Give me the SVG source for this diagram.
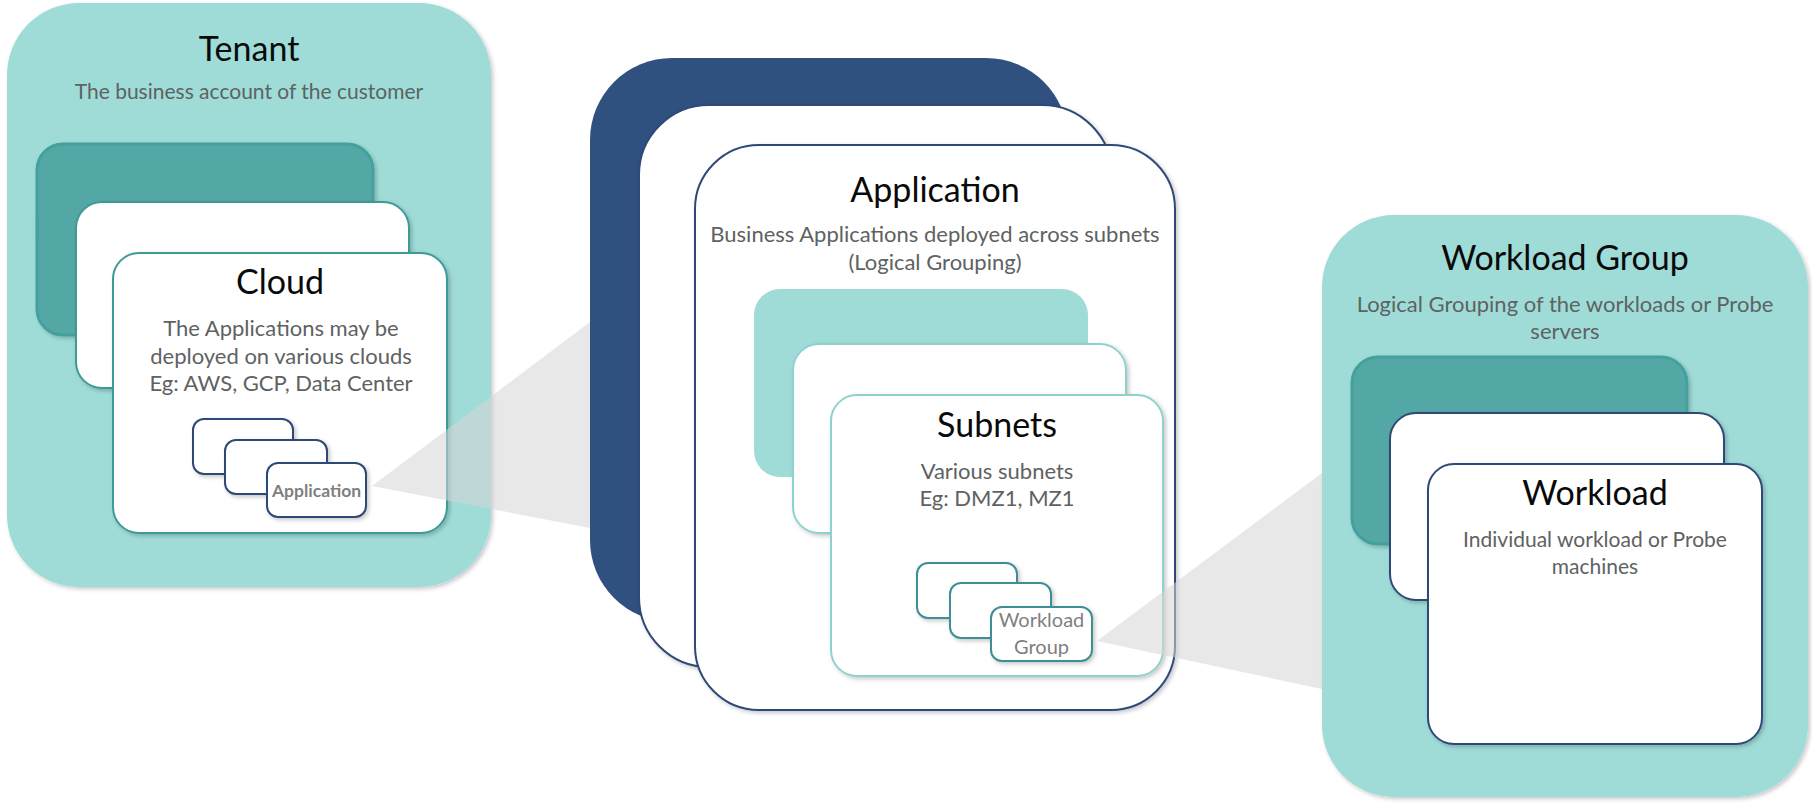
<svg xmlns="http://www.w3.org/2000/svg" width="1812" height="809" viewBox="0 0 1812 809">
<defs>
<filter id="sh" x="-10%" y="-10%" width="125%" height="125%">
<feDropShadow dx="2" dy="2" stdDeviation="2" flood-color="#000" flood-opacity="0.22"/>
</filter>
<style>
.bgteal{fill:#9FDCD8;}
.darkteal{fill:#52A8A6;stroke:#45A09D;stroke-width:3;}
.wteal{fill:#fff;stroke:#3E9A97;stroke-width:2;}
.wlteal{fill:#fff;stroke:#8FD2CD;stroke-width:2;}
.wnavy{fill:#fff;stroke:#2F4A78;stroke-width:2;}
.navy{fill:#30507F;}
.sm-navy{fill:#fff;stroke:#2F4A78;stroke-width:2;}
.sm-teal{fill:#fff;stroke:#3C8F93;stroke-width:2;}
.wedge{fill:#D6D6D6;fill-opacity:0.55;}
text{font-family:Lato,"Open Sans","Liberation Sans",sans-serif;text-anchor:middle;}
.title{font-size:34px;fill:#0A0A0A;}
.sub{font-size:21px;fill:#5E6262;}
.sub2{font-size:22px;fill:#5E6262;}
.smb{font-size:17.5px;font-weight:bold;fill:#7F7F7F;}
.sml{font-size:20px;fill:#7F7F7F;}
</style>
</defs>

<g id="tenant">
<rect class="bgteal" x="7" y="3" width="484" height="584" rx="72" filter="url(#sh)"/>
<text class="title" x="249" y="61">Tenant</text>
<text class="sub" x="249" y="99">The business account of the customer</text>
</g>

<g id="cloud">
<rect class="darkteal" x="37" y="144" width="336" height="191" rx="26" filter="url(#sh)"/>
<rect class="wteal" x="76" y="202" width="333" height="186" rx="26" filter="url(#sh)"/>
<rect class="wteal" x="113" y="253" width="334" height="280" rx="26" filter="url(#sh)"/>
<text class="title" x="280" y="294">Cloud</text>
<text class="sub2" x="281" y="336">The Applications may be</text>
<text class="sub2" x="281" y="364">deployed on various clouds</text>
<text class="sub2" x="281" y="391">Eg: AWS, GCP, Data Center</text>
</g>

<g id="application">
<rect class="navy" x="590" y="58" width="478" height="564" rx="82"/>
<rect class="wnavy" x="639" y="105" width="473" height="562" rx="70" filter="url(#sh)"/>
<rect class="wnavy" x="695" y="145" width="480" height="565" rx="64" filter="url(#sh)"/>
<text class="title" x="935" y="202">Application</text>
<text class="sub2" x="935" y="242">Business Applications deployed across subnets</text>
<text class="sub2" x="935" y="270">(Logical Grouping)</text>
</g>

<g id="subnets">
<rect class="bgteal" x="754" y="289" width="334" height="188" rx="26"/>
<rect class="wlteal" x="793" y="344" width="333" height="189" rx="26" filter="url(#sh)"/>
<rect class="wlteal" x="831" y="395" width="332" height="281" rx="26" filter="url(#sh)"/>
<text class="title" x="997" y="437">Subnets</text>
<text class="sub2" x="997" y="479">Various subnets</text>
<text class="sub2" x="997" y="506">Eg: DMZ1, MZ1</text>
</g>

<g id="connectors">
<polygon class="wedge" points="372,486 590,322 590,528"/>
<polygon class="wedge" points="1097,641 1322,473 1322,689"/>
</g>

<g id="application-items">
<rect class="sm-navy" x="193" y="419" width="100" height="55" rx="11" filter="url(#sh)"/>
<rect class="sm-navy" x="225" y="440" width="102" height="54" rx="11" filter="url(#sh)"/>
<rect class="sm-navy" x="267" y="463" width="99" height="54" rx="11" filter="url(#sh)"/>
<text class="smb" x="316.5" y="497">Application</text>
</g>

<g id="workload-group-items">
<rect class="sm-teal" x="917" y="563" width="100" height="55" rx="11" filter="url(#sh)"/>
<rect class="sm-teal" x="950" y="583" width="101" height="55" rx="11" filter="url(#sh)"/>
<rect class="sm-teal" x="991" y="607" width="101" height="54" rx="11" filter="url(#sh)"/>
<text class="sml" x="1041.5" y="627">Workload</text>
<text class="sml" x="1041.5" y="654">Group</text>
</g>

<g id="workload-group">
<rect class="bgteal" x="1322" y="215" width="486" height="582" rx="72" filter="url(#sh)"/>
<text class="title" x="1565" y="270">Workload Group</text>
<text class="sub2" x="1565" y="312">Logical Grouping of the workloads or Probe</text>
<text class="sub2" x="1565" y="339">servers</text>
</g>

<g id="workload">
<rect class="darkteal" x="1352" y="357" width="335" height="187" rx="26" filter="url(#sh)"/>
<rect class="wnavy" x="1390" y="413" width="334" height="187" rx="26" filter="url(#sh)"/>
<rect class="wnavy" x="1428" y="464" width="334" height="280" rx="26" filter="url(#sh)"/>
<text class="title" x="1595" y="505">Workload</text>
<text class="sub" x="1595" y="547">Individual workload or Probe</text>
<text class="sub" x="1595" y="574">machines</text>
</g>
</svg>
